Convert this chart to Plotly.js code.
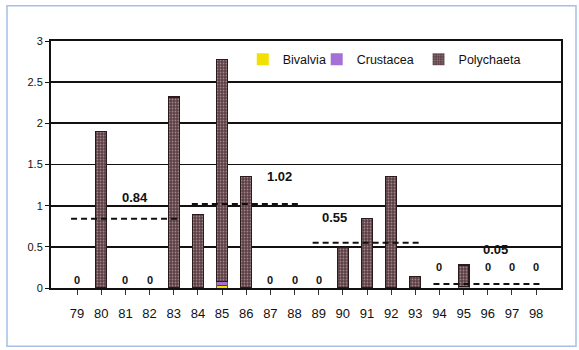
<!DOCTYPE html>
<html>
<head>
<meta charset="utf-8">
<script src="https://cdn.plot.ly/plotly-3.0.1.min.js"></script>
<style>
  html, body { margin: 0; padding: 0; background: #ffffff; }
  #chart { width: 579px; height: 350px; }
</style>
</head>
<body>
<div id="chart"></div>
<script>
// Yearly values by group (1979-1998)
const years      = [79, 80, 81, 82, 83, 84, 85, 86, 87, 88, 89, 90, 91, 92, 93, 94, 95, 96, 97, 98];
const bivalvia   = [0, 0, 0, 0, 0, 0, 0.03, 0, 0, 0, 0, 0, 0, 0, 0, 0, 0, 0, 0, 0];
const crustacea  = [0, 0, 0, 0, 0, 0, 0.05, 0, 0, 0, 0, 0, 0, 0, 0, 0, 0.02, 0, 0, 0];
const polychaeta = [0, 1.9, 0, 0, 2.32, 0.89, 2.70, 1.35, 0, 0, 0, 0.49, 0.84, 1.35, 0.14, 0, 0.26, 0, 0, 0];

// Five-year periods and their mean values
const periodFirst = [79, 84, 89, 94];
const periodLast  = [83, 88, 93, 98];
const periodMeans = [0.84, 1.02, 0.55, 0.05];

// Where each period's mean label and zero labels sit
const meanLabelAt  = [[81.4, 1.095], [87.37, 1.35], [89.64, 0.853], [96.3, 0.466]];
const zeroLabelY   = [0.1, 0.1, 0.1, 0.25];

const FONT = 'Liberation Sans, Arial, sans-serif';
const barWidth = 0.45;

// no outline on empty bars
const edge = (vals, w) => vals.map(v => (v > 0 ? w : 0));

const traces = [
  {
    type: 'bar', name: 'Bivalvia', x: years, y: bivalvia, width: barWidth, legend: 'legend',
    marker: { color: '#f2e000', line: { color: '#3a2a10', width: edge(bivalvia, 0.8) } }
  },
  {
    type: 'bar', name: 'Crustacea', x: years, y: crustacea, width: barWidth, legend: 'legend2',
    marker: { color: '#a56fd6', line: { color: '#3a2a40', width: edge(crustacea, 0.8) } }
  },
  {
    type: 'bar', name: 'Polychaeta', x: years, y: polychaeta, width: barWidth, legend: 'legend3',
    marker: {
      color: '#5c3f45',
      pattern: { shape: '.', fgcolor: '#9c858b', bgcolor: '#5c3f45', size: 3, solidity: 0.3 },
      line: { color: '#2b1a1c', width: edge(polychaeta, 1.2) }
    }
  }
];

// Dashed line for each period mean
periodMeans.forEach((m, i) => {
  traces.push({
    type: 'scatter', mode: 'lines', showlegend: false, hoverinfo: 'skip',
    x: [periodFirst[i] - 0.25, periodLast[i] + 0.15],
    y: [m, m],
    line: { color: '#111111', width: 2, dash: '6px,4px' }
  });
});

const annotations = [];
periodMeans.forEach((m, i) => {
  annotations.push({
    x: meanLabelAt[i][0], y: meanLabelAt[i][1], xref: 'x', yref: 'y',
    text: '<b>' + m.toFixed(2) + '</b>', showarrow: false,
    font: { family: FONT, size: 13, color: '#111111' }
  });
});

// "0" above every year with no individuals
years.forEach((yr, k) => {
  const total = bivalvia[k] + crustacea[k] + polychaeta[k];
  if (total === 0) {
    const p = periodFirst.findIndex((f, i) => yr >= f && yr <= periodLast[i]);
    annotations.push({
      x: yr, y: zeroLabelY[p], xref: 'x', yref: 'y',
      text: '<b>0</b>', showarrow: false,
      font: { family: FONT, size: 11, color: '#111111' }
    });
  }
});

const legendFont = { family: FONT, size: 12.5, color: '#111111' };
const legendAt = x => ({
  orientation: 'h', x: x, y: 0.985, xanchor: 'left', yanchor: 'top',
  bgcolor: 'rgba(0,0,0,0)', font: legendFont
});

const layout = {
  width: 579, height: 350,
  margin: { l: 51, r: 18, t: 40.5, b: 61.5 },
  paper_bgcolor: '#ffffff', plot_bgcolor: '#ffffff',
  barmode: 'stack',
  showlegend: true,
  legend: legendAt(0.376),
  legend2: legendAt(0.521),
  legend3: legendAt(0.7207),
  xaxis: {
    type: 'linear', range: [77.92, 99.03],
    tickmode: 'array', tickvals: years, ticktext: years.map(String),
    ticks: 'outside', ticklen: 5, tickwidth: 1, tickcolor: '#333333',
    ticklabelstandoff: 7,
    showgrid: false, zeroline: false,
    showline: true, linecolor: '#111111', linewidth: 2, mirror: true,
    tickfont: { family: FONT, size: 13, color: '#111111' }
  },
  yaxis: {
    range: [0, 3], dtick: 0.5, tick0: 0,
    ticks: 'outside', ticklen: 4, tickcolor: '#111111',
    showgrid: true, gridcolor: '#151010', gridwidth: 1.8,
    zeroline: false,
    showline: true, linecolor: '#111111', linewidth: 2, mirror: true,
    tickfont: { family: FONT, size: 11, color: '#111111' }
  },
  shapes: [{
    type: 'rect', xref: 'paper', yref: 'paper',
    x0: -0.0863, x1: 1.0294, y0: -0.236, y1: 1.143,
    line: { color: '#a4c0e6', width: 1.5 }, fillcolor: 'rgba(0,0,0,0)', layer: 'below'
  }],
  annotations: annotations
};

Plotly.newPlot('chart', traces, layout, { displayModeBar: false, staticPlot: true });
</script>
</body>
</html>
